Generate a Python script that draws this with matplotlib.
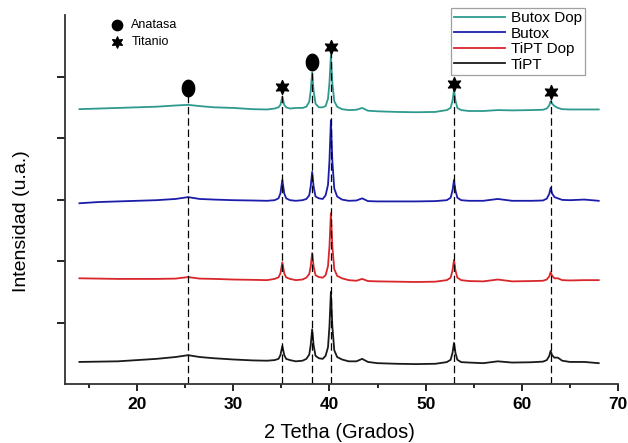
import numpy as np
import matplotlib.pyplot as plt

plt.rcParams['font.family'] = ['Liberation Sans', 'DejaVu Sans']

# 2 theta sample positions (degrees)
two_theta = [14, 16, 18, 20, 22, 24, 25.3, 26.5, 28, 30, 32, 33.5,
             34.3, 34.7, 34.9, 35.1, 35.3, 35.5, 35.9,
             36.5, 37.2,
             37.6, 37.9, 38.05, 38.2, 38.35, 38.55, 38.9,
             39.3,
             39.6, 39.85, 40.0, 40.15, 40.3, 40.5, 40.8, 41.3,
             42.0, 42.8, 43.4, 44.0, 45, 47, 49, 51,
             52.2, 52.6, 52.8, 52.95, 53.1, 53.3, 53.7,
             54.5, 56, 57.5, 59, 61, 62.2,
             62.6, 62.85, 63.0, 63.15, 63.4, 63.75, 64.2,
             65, 66.5, 68]

# stacked intensities (u.a.)
tipt = [0.36, 0.365, 0.37, 0.39, 0.41, 0.44, 0.47, 0.44, 0.42, 0.40, 0.385, 0.38,
        0.39, 0.41, 0.47, 0.62, 0.47, 0.41, 0.39,
        0.37, 0.38,
        0.41, 0.48, 0.635, 0.89, 0.635, 0.46, 0.42,
        0.41,
        0.46, 0.60, 0.94, 1.50, 0.94, 0.55, 0.44, 0.40,
        0.37, 0.37, 0.41, 0.36, 0.34, 0.33, 0.325, 0.33,
        0.357, 0.395, 0.51, 0.67, 0.51, 0.395, 0.357,
        0.35, 0.34, 0.37, 0.35, 0.355, 0.365,
        0.39, 0.455, 0.54, 0.47, 0.43, 0.43, 0.38,
        0.36, 0.36, 0.34]
tipt_dop = [1.72, 1.715, 1.71, 1.71, 1.71, 1.715, 1.74, 1.715, 1.71, 1.70, 1.695, 1.69,
            1.71, 1.735, 1.80, 1.98, 1.80, 1.735, 1.71,
            1.69, 1.70,
            1.73, 1.79, 1.915, 2.13, 1.915, 1.77, 1.74,
            1.73,
            1.77, 1.92, 2.24, 2.78, 2.24, 1.87, 1.76, 1.72,
            1.69, 1.68, 1.71, 1.675, 1.67, 1.665, 1.66, 1.665,
            1.69, 1.73, 1.85, 2.02, 1.85, 1.73, 1.69,
            1.675, 1.67, 1.70, 1.67, 1.675, 1.68,
            1.70, 1.75, 1.82, 1.76, 1.72, 1.72, 1.69,
            1.685, 1.69, 1.69]
butox = [2.94, 2.96, 2.97, 2.98, 2.99, 3.01, 3.04, 3.01, 3.00, 2.99, 2.985, 2.98,
         2.99, 3.02, 3.10, 3.32, 3.10, 3.02, 2.99,
         2.98, 2.99,
         3.01, 3.07, 3.215, 3.45, 3.215, 3.05, 3.02,
         3.01,
         3.07, 3.24, 3.63, 4.29, 3.63, 3.18, 3.05, 3.00,
         2.98, 2.985, 3.02, 2.975, 2.97, 2.97, 2.97, 2.975,
         2.99, 3.03, 3.15, 3.32, 3.15, 3.03, 2.99,
         2.98, 2.98, 3.01, 2.98, 2.98, 2.985,
         3.015, 3.09, 3.19, 3.10, 3.04, 3.02, 2.995,
         2.99, 3.00, 2.98]
butox_dop = [4.47, 4.48, 4.49, 4.50, 4.51, 4.53, 4.54, 4.52, 4.50, 4.49, 4.47, 4.465,
             4.48, 4.50, 4.54, 4.67, 4.54, 4.50, 4.48,
             4.49, 4.49,
             4.51, 4.59, 4.77, 5.07, 4.77, 4.56, 4.50,
             4.50,
             4.52, 4.64, 4.90, 5.35, 4.90, 4.60, 4.51, 4.47,
             4.455, 4.46, 4.49, 4.445, 4.435, 4.425, 4.42, 4.425,
             4.455, 4.49, 4.61, 4.78, 4.61, 4.49, 4.455,
             4.44, 4.44, 4.455, 4.45, 4.455, 4.46,
             4.48, 4.53, 4.60, 4.56, 4.52, 4.49, 4.47,
             4.465, 4.465, 4.465]

# phase marks
anatasa_x = [25.3, 38.2]
anatasa_y = [4.81, 5.24]
titanio_x = [35.1, 40.15, 52.95, 63.0]
titanio_y = [4.83, 5.48, 4.88, 4.75]
line_x = [25.3, 35.1, 38.2, 40.15, 52.95, 63.0]
line_top = [4.68, 4.70, 5.10, 5.38, 4.78, 4.62]

fig = plt.figure(figsize=(6.28, 4.43), dpi=100)
ax = fig.add_axes([0.1035, 0.133, 0.8805, 0.833])

ax.plot(two_theta, butox_dop, color="#2e9a8e", lw=1.3, label="Butox Dop")
ax.plot(two_theta, butox, color="#1c1caa", lw=1.3, label="Butox")
ax.plot(two_theta, tipt_dop, color="#d8262a", lw=1.3, label="TiPT Dop")
ax.plot(two_theta, tipt, color="#1a1a1a", lw=1.3, label="TiPT")

for xv, top in zip(line_x, line_top):
    ax.plot([xv, xv], [0, top], color="black", lw=0.9, ls=(0, (6, 3)))

t = np.linspace(0, 2 * np.pi, 40)
ellipse = np.column_stack([0.75 * np.cos(t), np.sin(t)])
ax.scatter(anatasa_x, anatasa_y, marker=ellipse, s=140, color="black", zorder=5)
ax.scatter(titanio_x, titanio_y, marker=(6, 1, 0), s=100, color="black", zorder=5)

# symbol key
ax.scatter([17.9], [5.84], marker="o", s=55, color="black", clip_on=False)
ax.scatter([17.9], [5.56], marker=(6, 1, 0), s=65, color="black", clip_on=False)
ax.text(19.4, 5.84, "Anatasa", fontsize=9, va="center")
ax.text(19.4, 5.56, "Titanio", fontsize=9, va="center")

ax.set_xlim(12.5, 70)
ax.set_ylim(0, 6)
ax.set_xticks([20, 30, 40, 50, 60, 70])
ax.set_xticks([15, 25, 35, 45, 55, 65], minor=True)
ax.set_yticks([1, 2, 3, 4, 5])
ax.set_yticklabels([])
ax.tick_params(axis="x", which="major", length=5, width=1.2, labelsize=12.5, pad=4)
ax.tick_params(axis="x", which="minor", length=3, width=1.2)
ax.tick_params(axis="y", length=6, width=1.2)
for lbl in ax.get_xticklabels():
    lbl.set_fontweight("bold")
for s in ["top", "right"]:
    ax.spines[s].set_visible(False)
for s in ["left", "bottom"]:
    ax.spines[s].set_linewidth(1.3)
    ax.spines[s].set_color("#333333")

ax.set_xlabel("2 Tetha (Grados)", fontsize=14.5)
ax.xaxis.set_label_coords(0.497, -0.105)
ax.set_ylabel("Intensidad (u.a.)", fontsize=14)
ax.yaxis.set_label_coords(-0.063, 0.442)

leg = fig.legend(loc="upper right", bbox_to_anchor=(0.9315, 0.982), borderaxespad=0,
                 fontsize=11, frameon=True, fancybox=False, edgecolor="#888888",
                 handlelength=3.3, handletextpad=0.4, labelspacing=0.1, borderpad=0.2)
leg.get_frame().set_linewidth(0.9)

fig.savefig("out.png", dpi=100)
